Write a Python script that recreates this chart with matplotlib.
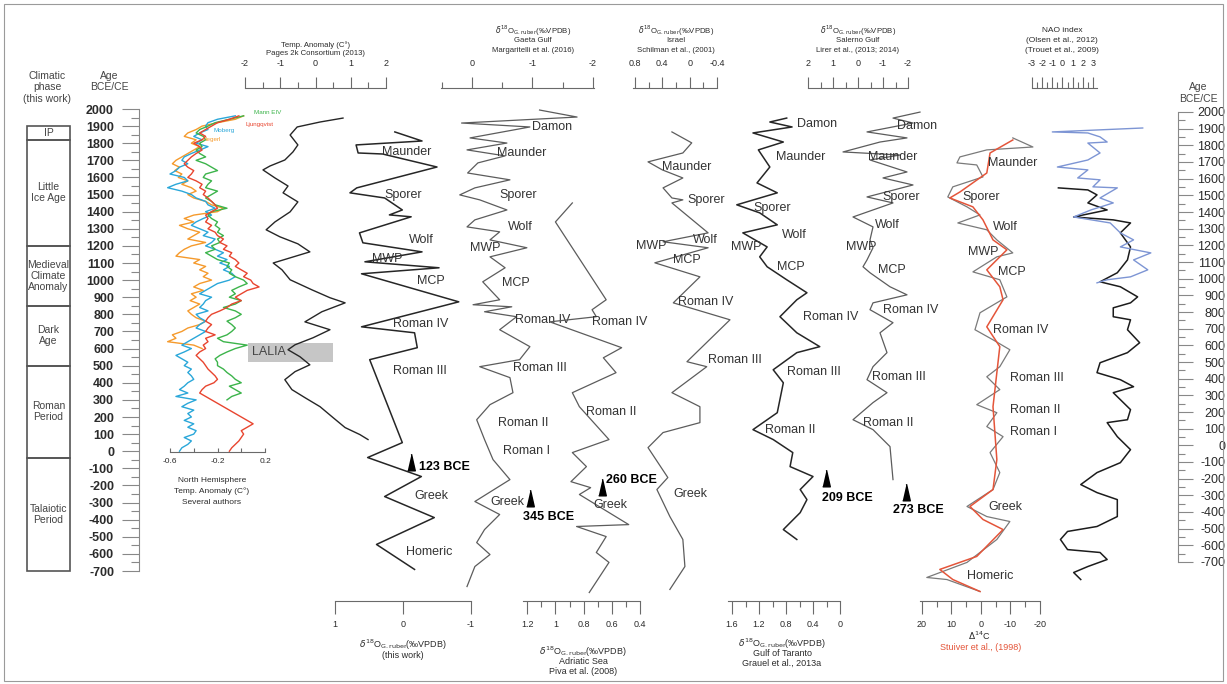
import matplotlib
matplotlib.use('Agg')
import matplotlib.pyplot as plt
from matplotlib.patches import Rectangle
import numpy as np

plt.rcParams['font.family'] = ['Liberation Sans', 'DejaVu Sans']
plt.rcParams['mathtext.fontset'] = 'dejavusans'
plt.rcParams['axes.unicode_minus'] = False

W, H = 1227, 684
INK = '#2b2b2b'
GREY = '#5c5c5c'
AXC = '#6a6a6a'

# ---------------- climatic phases (years CE) ----------------
phase_names = ['IP', 'Little\nIce Age', 'Medieval\nClimate\nAnomaly', 'Dark\nAge',
               'Roman\nPeriod', 'Talaiotic\nPeriod']
phase_top = [1900, 1820, 1200, 850, 500, -40]
phase_bottom = [1820, 1200, 850, 500, -40, -700]

# ---------------- NH temperature reconstructions ----------------
hegerl_age = np.arange(1960, 599, -20)
hegerl = [0.02, -0.05, -0.20, -0.33, -0.38, -0.45, -0.48, -0.38, -0.42, -0.35,
          -0.40, -0.45, -0.50, -0.55, -0.58, -0.52, -0.56, -0.50, -0.53, -0.45,
          -0.50, -0.42, -0.38, -0.45, -0.40, -0.30, -0.25, -0.15, -0.20, -0.40,
          -0.48, -0.40, -0.52, -0.45, -0.35, -0.40, -0.45, -0.30, -0.42, -0.48,
          -0.52, -0.55, -0.35, -0.40, -0.30, -0.35, -0.28, -0.32, -0.25, -0.35,
          -0.40, -0.32, -0.42, -0.38, -0.43, -0.35, -0.40, -0.45, -0.42, -0.38,
          -0.30, -0.35, -0.45, -0.50, -0.58, -0.55, -0.62, -0.40, -0.33]
moberg_age = np.arange(1960, -1, -20)
moberg = [-0.05, -0.20, -0.28, -0.30, -0.28, -0.35, -0.40, -0.33, -0.38, -0.28,
          -0.35, -0.42, -0.48, -0.50, -0.45, -0.52, -0.55, -0.60, -0.48, -0.45,
          -0.55, -0.62, -0.50, -0.42, -0.38, -0.30, -0.28, -0.22, -0.30, -0.25,
          -0.32, -0.38, -0.42, -0.35, -0.28, -0.32, -0.22, -0.25, -0.30, -0.22,
          -0.15, -0.20, -0.12, -0.18, -0.10, -0.15, -0.08, -0.05, -0.10, -0.20,
          -0.25, -0.30, -0.35, -0.25, -0.30, -0.32, -0.35, -0.28, -0.38, -0.35,
          -0.30, -0.35, -0.38, -0.30, -0.35, -0.40, -0.45, -0.50, -0.42, -0.48,
          -0.55, -0.50, -0.45, -0.48, -0.42, -0.45, -0.42, -0.40, -0.45, -0.48,
          -0.52, -0.45, -0.55, -0.38, -0.45, -0.50, -0.40, -0.45, -0.42, -0.48,
          -0.40, -0.45, -0.38, -0.40, -0.48, -0.42, -0.45, -0.50, -0.52]
mann_age = np.arange(1960, 299, -20)
mann = [0.02, -0.10, -0.22, -0.28, -0.35, -0.38, -0.32, -0.30, -0.35, -0.33,
        -0.38, -0.35, -0.30, -0.38, -0.30, -0.25, -0.20, -0.30, -0.32, -0.25,
        -0.28, -0.30, -0.20, -0.25, -0.30, -0.25, -0.22, -0.12, -0.25, -0.28,
        -0.25, -0.20, -0.22, -0.18, -0.20, -0.15, -0.20, -0.18, -0.25, -0.22,
        -0.30, -0.25, -0.20, -0.10, -0.12, -0.08, -0.10, -0.05, 0.02, 0.05,
        -0.02, -0.08, -0.05, -0.10, 0.00, -0.05, -0.15, -0.05, 0.00, -0.05,
        -0.12, -0.08, -0.05, -0.08, -0.12, -0.20, -0.15, 0.05, -0.05, -0.12,
        -0.18, -0.22, -0.20, -0.20, -0.15, -0.12, -0.08, -0.05, 0.00, -0.10,
        -0.05, 0.00, -0.08, -0.12]
ljung_age = np.arange(1960, -1, -20)
ljung = [-0.02, -0.10, -0.20, -0.25, -0.30, -0.35, -0.30, -0.33, -0.40, -0.35,
         -0.33, -0.38, -0.42, -0.45, -0.48, -0.45, -0.40, -0.42, -0.45, -0.38,
         -0.33, -0.35, -0.30, -0.32, -0.28, -0.25, -0.22, -0.20, -0.25, -0.30,
         -0.28, -0.30, -0.25, -0.28, -0.22, -0.20, -0.15, -0.18, -0.12, -0.15,
         -0.08, -0.10, -0.05, -0.02, -0.05, 0.00, 0.05, 0.02, 0.08, 0.10,
         0.15, 0.05, 0.00, -0.05, 0.00, -0.08, -0.12, -0.18, -0.25, -0.28,
         -0.30, -0.25, -0.28, -0.30, -0.22, -0.30, -0.28, -0.32, -0.30, -0.35,
         -0.38, -0.35, -0.32, -0.30, -0.28, -0.25, -0.22, -0.20, -0.23, -0.30,
         -0.33, -0.35, -0.30, -0.25, -0.20, -0.15, -0.10, -0.05, 0.00, 0.05,
         0.10, 0.05, 0.00, 0.02, 0.00, -0.02, -0.05, -0.08, -0.10]

# ---------------- Pages 2k temperature anomaly ----------------
pages_age = [1947, 1924, 1895, 1848, 1790, 1749, 1702, 1667, 1644, 1597,
             1550, 1510, 1457, 1399, 1340, 1294, 1253, 1212, 1165, 1100,
             1060, 1002, 943, 897, 867, 815, 756, 710, 663, 622,
             593, 552, 505, 465, 418, 360, 313, 260, 196, 138, 97, 68]
pages_temp = [0.78, 0.13, -0.52, -0.72, -0.50, -0.64, -0.87, -1.29, -1.49, -1.15,
              -0.78, -0.92, -0.50, -0.72, -1.15, -1.40, -1.01, -0.50, -0.16, -1.20,
              -0.95, -0.72, -0.10, 0.41, 0.84, 0.18, -0.30, 0.41, -0.07, -0.58,
              -0.78, -0.44, -0.16, -0.58, -0.87, -0.67, -0.30, 0.13, 0.50, 0.84, 1.26, 1.49]

# ---------------- d18O records ----------------
work_age = [1866, 1813, 1790, 1743, 1737, 1661, 1539, 1510, 1480, 1410,
            1381, 1370, 1276, 1218, 1165, 1107, 1072, 1037, 873, 727,
            692, 605, 535, 50, -37, -148, -265, -388, -545, -691]
work_d18o = [0.12, -0.28, 0.69, 0.66, 0.30, -0.50, 0.68, 0.78, 0.27, 0.01,
             0.20, -0.12, 0.64, 0.59, -0.28, 0.56, -0.53, 0.61, -0.82, 0.61,
             -0.17, -0.21, 0.49, 0.01, 0.52, -0.27, 0.27, -0.46, 0.39, -0.17]

gaeta_age = [1994, 1953, 1918, 1895, 1831, 1801, 1761, 1726, 1685, 1626,
             1586, 1539, 1498, 1469, 1410, 1352, 1311, 1282, 1235, 1189,
             1136, 1072, 990, 926, 885, 856, 844, 815, 786, 710,
             611, 535, 494, 430, 342, 272, 184, 68, -49, -166,
             -294, -370, -458, -534, -604, -674, -791]
gaeta_d18o = [-1.12, -1.74, 0.17, -0.96, 0.03, -0.58, 0.08, -0.55, -0.10, 0.07,
              -0.63, -0.05, 0.20, -0.13, -0.58, -0.05, 0.08, -0.46, -0.30, -0.91,
              -0.30, -0.55, -0.18, -0.35, -0.46, -0.02, -0.66, -0.21, -0.74, -0.46,
              -0.96, -0.79, -0.13, -0.63, -0.68, -0.30, -0.08, -0.21, -0.35, -0.63,
              -0.05, -0.46, -0.21, -0.08, -0.30, -0.05, 0.08]

piva_age = [1451, 1340, 885, 827, 786, 756, 605, 546, 459, 342,
            260, 68, -8, -90, -178, -213, -253, -429, -440, -499,
            -592, -650, -826]
piva_d18o = [0.88, 1.00, 0.64, 0.74, 0.71, 1.04, 0.53, 0.66, 0.57, 0.88,
             0.83, 0.62, 0.88, 0.78, 0.89, 0.75, 0.83, 0.48, 0.85, 0.64,
             0.71, 0.62, 0.76]

schil_age = [1866, 1802, 1743, 1691, 1644, 1597, 1539, 1480, 1469, 1451,
             1276, 1224, 1189, 1101, 1019, 867, 768, 523, 494, 342,
             260, 167, 109, 21, -154, -224, -382, -516, -674, -808]
schil_d18o = [0.26, -0.03, 0.10, 0.61, 0.40, 0.10, 0.39, 0.26, 0.10, 0.26,
              -0.27, 0.39, -0.27, 0.51, -0.15, 0.24, -0.59, 0.04, -0.25, 0.26,
              -0.15, -0.15, 0.39, 0.61, 0.32, 0.48, 0.29, 0.10, 0.07, 0.29]

grauel_age = [1947, 1924, 1895, 1860, 1807, 1761, 1661, 1568, 1510, 1440,
              1393, 1323, 1276, 1194, 1136, 1078, 1002, 926, 885, 786,
              692, 611, 576, 476, 400, 225, 126, 68, -8, -90,
              -148, -224, -283, -359, -458, -516]
grauel_d18o = [0.79, 1.04, 0.71, 1.29, 0.84, 1.21, 1.04, 1.23, 0.93, 1.53,
               1.19, 0.93, 1.44, 1.08, 1.19, 1.08, 0.79, 0.49, 0.64, 0.89,
               0.64, 0.30, 0.64, 0.99, 0.84, 0.93, 1.29, 0.99, 0.70, 0.74,
               0.40, 0.59, 0.49, 0.59, 0.84, 0.64]

lirer_age = [1982, 1947, 1918, 1866, 1831, 1807, 1749, 1731, 1702, 1632,
             1597, 1556, 1486, 1451, 1369, 1311, 1235, 1189, 1118, 1078,
             1043, 961, 914, 867, 827, 751, 692, 576, 494, 418,
             342, 284, 184, 126, 27, -166]
lirer_d18o = [-2.48, -1.40, -2.20, -0.36, -1.96, -0.88, 0.60, -1.68, -0.48, -1.96,
              -1.00, -2.20, -0.36, -1.40, 0.20, -0.60, -0.48, -0.60, -0.36, -0.20,
              -0.48, -1.28, -1.96, -0.60, -0.48, -1.40, -0.88, -1.16, -0.60, -0.36,
              -1.16, -0.60, 0.20, -0.60, -1.28, -1.40]

# ---------------- D14C (Stuiver) ----------------
stuiver_age = [1831, 1778, 1761, 1720, 1685, 1673, 1603, 1545, 1486, 1428,
               1381, 1334, 1294, 1235, 1159, 1136, 1048, 1002, 902, 809,
               710, 651, 593, 494, 435, 360, 272, 225, 144, 85,
               -8, -125, -224, -323, -382, -411, -516, -650, -738, -750, -820]
stuiver_d14c = [-10.8, -17.6, -2.0, 7.1, 8.1, 1.4, -0.7, 9.5, 11.2, 4.7,
                0.3, 7.8, -2.0, -5.4, -10.8, -5.4, 2.7, -6.4, -8.8, 0.3,
                2.0, -4.1, -9.8, -6.4, -2.0, -6.4, 1.4, -5.4, -2.0, -7.5,
                -3.1, -6.4, -4.1, 4.7, -2.0, -9.8, -5.4, 4.7, 18.3, 11.5, 0.3]
smooth_age = [1819, 1743, 1626, 1515, 1480, 1428, 1352, 1235, 1177, 1060,
              961, 885, 727, 611, 459, 260, -49, -224, -323, -399,
              -458, -615, -691, -750, -820]
smooth_d14c = [-10.8, -3.1, -2.0, 7.1, 10.5, 2.7, -0.7, -4.1, -8.8, -2.0,
               -6.4, -7.5, -2.0, -6.4, -5.4, -4.1, -5.4, -4.1, 3.7, -0.7,
               -7.5, 1.4, 13.9, 9.5, 0.3]

# ---------------- NAO ----------------
trouet_age = [1889, 1866, 1860, 1837, 1807, 1801, 1743, 1702, 1661, 1644,
              1597, 1586, 1545, 1539, 1480, 1451, 1410, 1369, 1334, 1276,
              1235, 1194, 1159, 1118, 1060, 1019, 1002, 984]
trouet_nao = [7.9, -1.0, 2.5, 3.7, 4.4, 2.5, 3.7, 2.5, -0.5, 2.5,
              1.5, 3.7, 3.0, 5.4, 3.7, 5.0, 2.8, 1.1, 4.7, 5.7,
              7.0, 5.7, 8.7, 7.0, 8.4, 6.7, 4.4, 3.4]
olsen_age = [1539, 1527, 1498, 1451, 1410, 1369, 1352, 1334, 1276, 1194,
             1118, 1043, 990, 961, 902, 867, 838, 786, 768, 710,
             634, 576, 517, 459, 418, 377, 342, 243, 184, 167,
             85, 9, -67, -125, -195, -242, -283, -382, -440, -469,
             -516, -575, -592, -633, -674, -709, -750]
olsen_nao = [-0.4, 2.5, 3.4, 2.5, 4.4, 1.1, 5.0, 6.7, 5.7, 6.7,
             6.4, 5.4, 3.7, 5.7, 7.4, 6.7, 5.0, 5.0, 6.7, 6.4,
             7.6, 6.4, 3.7, 3.4, 5.7, 7.0, 5.0, 6.7, 6.4, 4.4,
             5.4, 6.7, 5.7, 3.4, 1.8, 3.4, 5.4, 5.4, 3.4, 0.5,
             -0.2, 0.5, 3.7, 4.4, 2.5, 1.1, 1.8]

age_ticks = list(range(-700, 2001, 100))

fig = plt.figure(figsize=(W / 100, H / 100), dpi=100)
fig.patch.set_facecolor('white')


def age_at(ypx):
    # shared vertical age scale: 2000 CE at y=109 px, 17.11 px per century
    return 2000 - (ypx - 109) * 100 / 17.11


def px_axes(x0, x1, y0, y1):
    ax = fig.add_axes([x0 / W, 1 - y1 / H, (x1 - x0) / W, (y1 - y0) / H])
    ax.patch.set_alpha(0)
    for sp in ax.spines.values():
        sp.set_visible(False)
    ax.set_xticks([])
    ax.set_yticks([])
    return ax


def ftext(x, y, s, **kw):
    kw.setdefault('ha', 'center')
    kw.setdefault('va', 'center')
    kw.setdefault('color', INK)
    kw.setdefault('fontsize', 6.5)
    fig.text(x / W, 1 - y / H, s, **kw)


def title_lines(x, ys, lines, **kw):
    for y, s in zip(ys, lines):
        ftext(x, y, s, **kw)


def scale_panel(x0, x1, xlim, side, majors, labels, minors, major_len=8):
    ax = px_axes(x0, x1, 88, 601)
    ax.set_xlim(*xlim)
    ax.set_ylim(age_at(601), age_at(88))
    ax.spines[side].set_visible(True)
    ax.spines[side].set_color(AXC)
    ax.spines[side].set_linewidth(0.8)
    if side == 'top':
        ax.xaxis.tick_top()
        pad = 6.5
    else:
        pad = 5
    ax.set_xticks(majors)
    ax.set_xticklabels(labels)
    ax.set_xticks(minors, minor=True)
    ax.tick_params(axis='x', which='major', direction='out', length=major_len, width=0.8,
                   colors=AXC, labelcolor=INK, labelsize=6.5, pad=pad)
    ax.tick_params(axis='x', which='minor', direction='out', length=4, width=0.8, colors=AXC)
    return ax


def events(ax, items, size=9):
    for name, age, val in items:
        ax.text(val, age, name, fontsize=size, color='#333333', ha='left', va='center')


TRI = [(-1, -2.2), (1, -2.2), (0, 2.2)]


def dating(ax, val, age, text, tval, tage):
    ax.plot([val], [age], marker=TRI, ms=12, color='black', linestyle='none', clip_on=False)
    ax.text(tval, tage, text, fontsize=9, fontweight='bold', color='black', ha='left', va='center')


D18O = r'$\delta^{18}$O$_{\rm G.ruber}$(‰VPDB)'
TOP_Y = [31, 41, 50]
TOP_FS = 5.6

# outer frame
fig.add_artist(Rectangle((4 / W, 1 - 681 / H), 1219 / W, 677 / H, transform=fig.transFigure,
                         fill=False, ec='#9a9a9a', lw=0.8))

# ---------------- climatic phase column ----------------
title_lines(47, [76, 87.5, 99], ['Climatic', 'phase', '(this work)'], fontsize=7.5, color='#444')
ax_ph = px_axes(27, 70, 109, 571)
ax_ph.set_xlim(0, 1)
ax_ph.set_ylim(-700, 2000)
for name, top, bot in zip(phase_names, phase_top, phase_bottom):
    ax_ph.add_patch(Rectangle((0, bot), 1, top - bot, fill=False, ec='#555555', lw=1.2, clip_on=False))
    ax_ph.text(0.5, (top + bot) / 2, name, ha='center', va='center', fontsize=7.5,
               color='#444', linespacing=1.15)

# ---------------- left age axis ----------------
title_lines(109, [76, 87.5], ['Age', 'BCE/CE'], fontsize=7.5, color='#444')
ax_age = px_axes(139, 160, 109, 571)
ax_age.set_ylim(-700, 2000)
ax_age.spines['left'].set_visible(True)
ax_age.spines['left'].set_color('#888')
ax_age.set_yticks(age_ticks)
ax_age.set_yticks([a + 50 for a in age_ticks[:-1]], minor=True)
ax_age.tick_params(axis='y', which='major', length=12, width=0.8, colors='#888',
                   labelcolor=INK, labelsize=9, pad=6)
ax_age.tick_params(axis='y', which='minor', length=6, width=0.8, colors='#888')
for t in ax_age.get_yticklabels():
    t.set_fontweight('bold')

# ---------------- right age axis ----------------
title_lines(1198, [87, 99.5], ['Age', 'BCE/CE'], fontsize=7.5, color='#444')
ax_age2 = px_axes(1150, 1178, 112, 562)
ax_age2.set_ylim(-700, 2000)
ax_age2.spines['right'].set_visible(True)
ax_age2.spines['right'].set_color('#888')
ax_age2.yaxis.tick_right()
ax_age2.set_yticks(age_ticks)
ax_age2.set_yticks([a + 50 for a in age_ticks[:-1]], minor=True)
ax_age2.tick_params(axis='y', which='major', length=11, width=0.8, colors='#888',
                    labelcolor=INK, labelsize=9, pad=23)
ax_age2.tick_params(axis='y', which='minor', length=5, width=0.8, colors='#888')
for t in ax_age2.get_yticklabels():
    t.set_horizontalalignment('right')

# ---------------- NH temperature panel ----------------
ax_nh = px_axes(170, 265, 88, 452)
ax_nh.set_xlim(-0.6, 0.2)
ax_nh.set_ylim(age_at(452), age_at(88))
ax_nh.spines['bottom'].set_visible(True)
ax_nh.spines['bottom'].set_color(AXC)
ax_nh.set_xticks([-0.6, -0.4, -0.2, 0.0, 0.2])
ax_nh.set_xticklabels(['-0.6', '', '-0.2', '', '0.2'])
ax_nh.tick_params(axis='x', direction='in', length=3, width=0.8, colors=AXC,
                  labelcolor=INK, labelsize=6, pad=4)
nh_colors = {'hegerl': '#f59a2c', 'moberg': '#2aa7d9', 'mann': '#3cb44b', 'ljung': '#e8452f'}
ax_nh.plot(hegerl, hegerl_age, color=nh_colors['hegerl'], lw=1.0, clip_on=False)
ax_nh.plot(moberg, moberg_age, color=nh_colors['moberg'], lw=1.0, clip_on=False)
ax_nh.plot(mann, mann_age, color=nh_colors['mann'], lw=1.0, clip_on=False)
ax_nh.plot(ljung, ljung_age, color=nh_colors['ljung'], lw=1.0, clip_on=False)
ax_nh.text(0.106, 1977, 'Mann EIV', color=nh_colors['mann'], fontsize=4.5, va='center')
ax_nh.text(0.04, 1912, 'Ljungqvist', color=nh_colors['ljung'], fontsize=4.5, va='center')
ax_nh.text(-0.23, 1872, 'Moberg', color=nh_colors['moberg'], fontsize=4.5, va='center')
ax_nh.text(-0.33, 1819, 'Hegerl', color=nh_colors['hegerl'], fontsize=4.5, va='center')
title_lines(212, [480, 491, 502], ['North Hemisphere', 'Temp. Anomaly (C°)', 'Several authors'],
            fontsize=6)

# ---------------- Pages 2k ----------------
ax_p = scale_panel(245, 386, (-2, 2), 'top', [-2, -1, 0, 1, 2], ['-2', '-1', '0', '1', '2'],
                   [-1.5, -0.5, 0.5, 1.5])
ax_p.add_patch(Rectangle((-1.91, 523), 2.41, 112, facecolor='#c6c6c6', edgecolor='none', zorder=1))
ax_p.text(-1.80, 579, 'LALIA', fontsize=9, color='#444', va='center', zorder=2)
ax_p.plot(pages_temp, pages_age, color='#262626', lw=1.0, clip_on=False, zorder=3)
title_lines(316, [45, 53.5], ['Temp. Anomaly (C°)', 'Pages 2k Consortium (2013)'], fontsize=TOP_FS)

# ---------------- this work ----------------
ax_w = scale_panel(335, 471, (1, -1), 'bottom', [1, 0, -1], ['1', '0', '-1'], [], major_len=9)
ax_w.plot(work_d18o, work_age, color='#262626', lw=1.1, clip_on=False)
events(ax_w, [('Maunder', 1749, 0.31), ('Sporer', 1498, 0.27), ('Wolf', 1235, -0.09),
              ('MWP', 1124, 0.45), ('MCP', 996, -0.21), ('Roman IV', 745, 0.15),
              ('Roman III', 470, 0.15), ('Greek', -259, -0.17), ('Homeric', -592, -0.04)])
dating(ax_w, -0.12, -61, '123 BCE', -0.24, -90)
title_lines(403, [645, 656], [D18O, '(this work)'])

# ---------------- Gaeta Gulf ----------------
ax_g = scale_panel(441, 594, (0.51, -2.02), 'top', [0, -1, -2], ['0', '-1', '-2'],
                   [0.5, -0.5, -1.5])
ax_g.plot(gaeta_d18o, gaeta_age, color=GREY, lw=0.9, clip_on=False)
events(ax_g, [('Damon', 1895, -0.99), ('Maunder', 1743, -0.41), ('Sporer', 1498, -0.46),
              ('Wolf', 1311, -0.60), ('MWP', 1189, 0.03), ('MCP', 984, -0.50),
              ('Roman IV', 768, -0.71), ('Roman III', 488, -0.68), ('Roman II', 167, -0.43),
              ('Roman I', 3, -0.51), ('Greek', -294, -0.30)])
dating(ax_g, -0.96, -271, '345 BCE', -0.84, -382)
title_lines(533, TOP_Y, [D18O, 'Gaeta Gulf', 'Margaritelli et al. (2016)'], fontsize=TOP_FS)

# ---------------- Adriatic Sea ----------------
ax_a = scale_panel(523, 640, (1.23, 0.41), 'bottom', [1.2, 1.0, 0.8, 0.6, 0.4],
                   ['1.2', '1', '0.8', '0.6', '0.4'], [1.1, 0.9, 0.7, 0.5], major_len=9)
ax_a.plot(piva_d18o, piva_age, color=GREY, lw=0.9, clip_on=False)
events(ax_a, [('Roman IV', 756, 0.74), ('Roman II', 231, 0.78), ('Greek', -312, 0.73)])
dating(ax_a, 0.67, -207, '260 BCE', 0.64, -166)
title_lines(583, [652, 662, 671], [D18O, 'Adriatic Sea', 'Piva et al. (2008)'])

# ---------------- Israel ----------------
ax_i = scale_panel(633, 717, (0.83, -0.40), 'top', [0.8, 0.4, 0, -0.4], ['0.8', '0.4', '0', '-0.4'],
                   [0.6, 0.2, -0.2])
ax_i.plot(schil_d18o, schil_age, color=GREY, lw=0.9, clip_on=False)
events(ax_i, [('Maunder', 1661, 0.40), ('Sporer', 1469, 0.04), ('Wolf', 1235, -0.05),
              ('MWP', 1200, 0.79), ('MCP', 1118, 0.24), ('Roman IV', 873, 0.17),
              ('Roman III', 535, -0.27), ('Greek', -253, 0.24)])
title_lines(676, TOP_Y, [D18O, 'Israel', 'Schilman et al., (2001)'], fontsize=TOP_FS)

# ---------------- Gulf of Taranto ----------------
ax_t = scale_panel(728, 840, (1.66, 0), 'bottom', [1.6, 1.2, 0.8, 0.4, 0],
                   ['1.6', '1.2', '0.8', '0.4', '0'], [1.4, 1.0, 0.6, 0.2], major_len=9)
ax_t.plot(grauel_d18o, grauel_age, color='#262626', lw=1.1, clip_on=False)
events(ax_t, [('Damon', 1912, 0.64), ('Maunder', 1720, 0.95), ('Sporer', 1422, 1.29),
              ('Wolf', 1264, 0.86), ('MWP', 1194, 1.61), ('MCP', 1078, 0.93),
              ('Roman IV', 786, 0.55), ('Roman III', 465, 0.79), ('Roman II', 126, 1.11)])
dating(ax_t, 0.21, -154, '209 BCE', 0.27, -271)
title_lines(782, [644, 654, 663], [D18O, 'Gulf of Taranto', 'Grauel et al., 2013a'])

# ---------------- Salerno Gulf ----------------
ax_s = scale_panel(808, 908, (2, -2), 'top', [2, 1, 0, -1, -2], ['2', '1', '0', '-1', '-2'],
                   [1.5, 0.5, -0.5, -1.5])
ax_s.plot(lirer_d18o, lirer_age, color=GREY, lw=0.9, clip_on=False)
events(ax_s, [('Damon', 1901, -1.56), ('Maunder', 1720, -0.40), ('Sporer', 1486, -0.96),
              ('Wolf', 1323, -0.68), ('MWP', 1194, 0.48), ('MCP', 1060, -0.80),
              ('Roman IV', 827, -1.00), ('Roman III', 435, -0.56), ('Roman II', 167, -0.20)])
dating(ax_s, -1.92, -236, '273 BCE', -1.40, -341)
title_lines(858, TOP_Y, [D18O, 'Salerno Gulf', 'Lirer et al., (2013; 2014)'], fontsize=TOP_FS)

# ---------------- D14C ----------------
ax_c = scale_panel(920, 1040, (20.6, -20), 'bottom', [20, 10, 0, -10, -20],
                   ['20', '10', '0', '-10', '-20'], [15, 5, -5, -15], major_len=9)
ax_c.plot(stuiver_d14c, stuiver_age, color='#7a7a7a', lw=0.9, clip_on=False)
ax_c.plot(smooth_d14c, smooth_age, color='#e4553a', lw=1.1, clip_on=False)
events(ax_c, [('Maunder', 1685, -2.4), ('Sporer', 1486, 6.4), ('Wolf', 1311, -4.1),
              ('MWP', 1165, 4.4), ('MCP', 1048, -5.8), ('Roman IV', 710, -4.1),
              ('Roman III', 430, -9.8), ('Roman II', 243, -9.8), ('Roman I', 114, -9.8),
              ('Greek', -329, -2.4), ('Homeric', -732, 4.7)])
ftext(979, 636, r'$\Delta^{14}$C')
ftext(981, 648, 'Stuiver et al., (1998)', color='#e4553a')

# ---------------- NAO ----------------
ax_n = scale_panel(1032, 1097, (-3, 3.4), 'top', [-3, -2, -1, 0, 1, 2, 3],
                   ['-3', '-2', '-1', '0', '1', '2', '3'], [-2.5, -1.5, -0.5, 0.5, 1.5, 2.5])
ax_n.plot(olsen_nao, olsen_age, color='#1c1c1c', lw=1.1, clip_on=False)
ax_n.plot(trouet_nao, trouet_age, color='#7d95d4', lw=1.0, clip_on=False)
title_lines(1062, TOP_Y, ['NAO index', '(Olsen et al., 2012)', '(Trouet et al., 2009)'],
            fontsize=6)

fig.savefig('out.png', dpi=100)
